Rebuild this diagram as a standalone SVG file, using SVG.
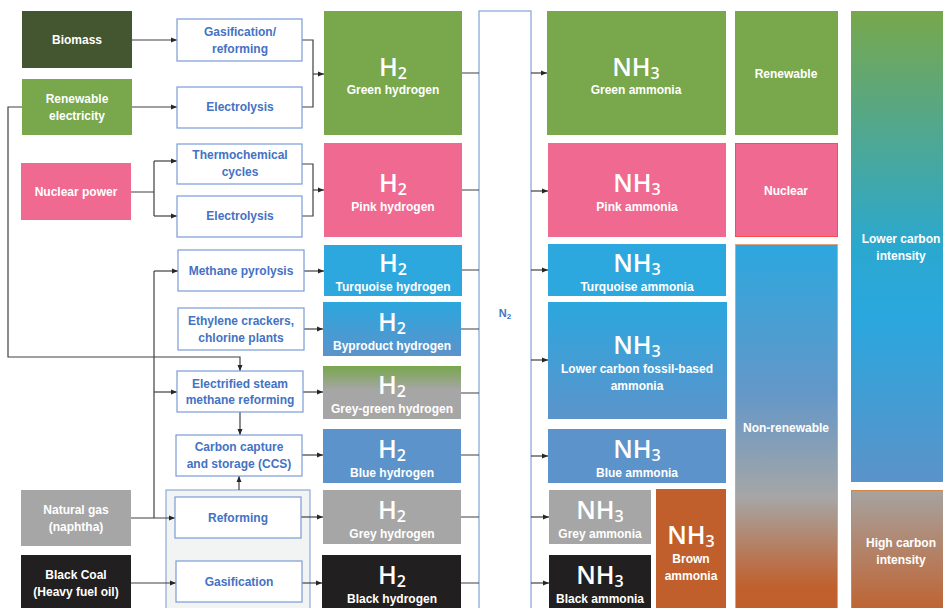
<svg xmlns="http://www.w3.org/2000/svg" width="943" height="608" viewBox="0 0 943 608">
<defs>
<marker id="ah" markerWidth="6" markerHeight="6" refX="6" refY="3" orient="auto" markerUnits="userSpaceOnUse"><path d="M0,0.5 L6,3 L0,5.5 z" fill="#262626"/></marker>
<linearGradient id="gByp" x1="0" y1="0" x2="0" y2="1"><stop offset="0" stop-color="#2ba7de"/><stop offset="1" stop-color="#5b93ca"/></linearGradient>
<linearGradient id="gGG" x1="0" y1="0" x2="0" y2="1"><stop offset="0" stop-color="#78a74c"/><stop offset="0.45" stop-color="#a6a6a6"/><stop offset="1" stop-color="#a6a6a6"/></linearGradient>
<linearGradient id="gLF" x1="0" y1="0" x2="0" y2="1"><stop offset="0" stop-color="#2ba7de"/><stop offset="1" stop-color="#5b94cb"/></linearGradient>
<linearGradient id="gNR" x1="0" y1="0" x2="0" y2="1"><stop offset="0" stop-color="#2ca7de"/><stop offset="0.4" stop-color="#6497c8"/><stop offset="0.68" stop-color="#a6a6a6"/><stop offset="0.92" stop-color="#c0602d"/><stop offset="1" stop-color="#c05f2c"/></linearGradient>
<linearGradient id="gLC" x1="0" y1="0" x2="0" y2="1"><stop offset="0" stop-color="#78a74c"/><stop offset="0.5" stop-color="#2ba8cf"/><stop offset="0.65" stop-color="#2aa7de"/><stop offset="1" stop-color="#5b93c9"/></linearGradient>
<linearGradient id="gHC" x1="0" y1="0" x2="0" y2="1"><stop offset="0" stop-color="#a6a3a0"/><stop offset="1" stop-color="#c0602c"/></linearGradient>
</defs>
<style>
text{font-family:"Liberation Sans",Arial,sans-serif;font-weight:bold;text-anchor:middle}
.w{fill:#ffffff;font-size:12px}
.p{fill:#4472c4;font-size:12px}
.big{fill:#ffffff;font-size:25px;font-weight:600;font-family:"Open Sans","Liberation Sans",sans-serif}
.sub{font-size:16px}
.proc{fill:#ffffff;stroke:#7a9cd6;stroke-width:1.2}
.conn path{fill:none;stroke:#404040;stroke-width:1.2}
.arr{marker-end:url(#ah)}
</style>
<rect width="943" height="608" fill="#ffffff"/>

<g id="container"><rect x="166" y="490" width="144" height="125" fill="#f2f3f3" stroke="#8eaadb" stroke-width="1.2"/></g>
<g id="n2"><rect x="479" y="11" width="52" height="605" fill="#ffffff" stroke="#8eaadb" stroke-width="1.3"/><text x="505" y="317" style="fill:#4472c4;font-size:11px">N<tspan font-size="8" dy="2">2</tspan></text></g>

<g class="conn">
<path class="arr" d="M132,40 H177"/>
<path class="arr" d="M132,107 H177"/>
<path d="M302,40 H313 V107 H302"/>
<path class="arr" d="M313,74 H324"/>
<path d="M131,192 H154 M154,161 V216"/>
<path class="arr" d="M154,161 H177"/>
<path class="arr" d="M154,216 H177"/>
<path d="M302,164 H313 V216 H302"/>
<path class="arr" d="M313,190 H324"/>
<path class="arr" d="M22,107 H8 V357 H240 V371"/>
<path class="arr" d="M131,518 H175"/>
<path d="M154,518 V271"/>
<path class="arr" d="M154,271 H178"/>
<path class="arr" d="M154,392 H177"/>
<path class="arr" d="M240,412 V435"/>
<path class="arr" d="M239,490 V476"/>
<path class="arr" d="M131,583 H176"/>
<path class="arr" d="M304,271 H324"/>
<path class="arr" d="M304,329 H323"/>
<path class="arr" d="M303,392 H323"/>
<path class="arr" d="M302,455 H323"/>
<path class="arr" d="M301,517 H323"/>
<path class="arr" d="M302,583 H322"/>
<path d="M462,73 H479 M462,190 H479 M462,270 H479 M461,329 H479 M461,393 H479 M461,455 H479 M461,517 H479 M461,583 H479"/>
<path class="arr" d="M531,73 H547"/>
<path class="arr" d="M531,191 H548"/>
<path class="arr" d="M531,270 H548"/>
<path class="arr" d="M531,360 H548"/>
<path class="arr" d="M531,456 H548"/>
<path class="arr" d="M531,517 H549"/>
<path class="arr" d="M531,583 H549"/>
</g>

<g id="biomass"><rect x="22" y="11" width="110" height="57" fill="#44562f"/><text class="w" x="77" y="44">Biomass</text></g>
<g id="renewable-electricity"><rect x="22" y="79" width="110" height="56" fill="#78a74c"/><text class="w" x="77" y="103">Renewable</text><text class="w" x="77" y="120">electricity</text></g>
<g id="nuclear-power"><rect x="21" y="163" width="110" height="57" fill="#f06991"/><text class="w" x="76" y="196">Nuclear power</text></g>
<g id="natural-gas"><rect x="21" y="490" width="110" height="56" fill="#a6a6a6"/><text class="w" x="76" y="514">Natural gas</text><text class="w" x="76" y="531">(naphtha)</text></g>
<g id="black-coal"><rect x="21" y="555" width="110" height="60" fill="#221f20"/><text class="w" x="76" y="579">Black Coal</text><text class="w" x="76" y="596">(Heavy fuel oil)</text></g>

<g id="gasification-reforming"><rect class="proc" x="177" y="19" width="125" height="42"/><text class="p" x="240" y="36">Gasification/</text><text class="p" x="240" y="53">reforming</text></g>
<g id="electrolysis-1"><rect class="proc" x="177" y="87" width="125" height="41"/><text class="p" x="240" y="111">Electrolysis</text></g>
<g id="thermochemical"><rect class="proc" x="177" y="144" width="125" height="40"/><text class="p" x="240" y="159">Thermochemical</text><text class="p" x="240" y="176">cycles</text></g>
<g id="electrolysis-2"><rect class="proc" x="177" y="196" width="125" height="41"/><text class="p" x="240" y="220">Electrolysis</text></g>
<g id="methane-pyrolysis"><rect class="proc" x="178" y="250" width="126" height="41"/><text class="p" x="241" y="275">Methane pyrolysis</text></g>
<g id="ethylene"><rect class="proc" x="178" y="308" width="126" height="42"/><text class="p" x="241" y="325">Ethylene crackers,</text><text class="p" x="241" y="342">chlorine plants</text></g>
<g id="esmr"><rect class="proc" x="177" y="371" width="126" height="41"/><text class="p" x="240" y="388">Electrified steam</text><text class="p" x="240" y="404">methane reforming</text></g>
<g id="ccs"><rect class="proc" x="176" y="435" width="126" height="41"/><text class="p" x="239" y="451">Carbon capture</text><text class="p" x="239" y="468">and storage (CCS)</text></g>
<g id="reforming"><rect class="proc" x="175" y="497" width="126" height="41"/><text class="p" x="238" y="522">Reforming</text></g>
<g id="gasification"><rect class="proc" x="176" y="561" width="126" height="41"/><text class="p" x="239" y="586">Gasification</text></g>

<g id="h2-green"><rect x="324" y="11" width="138" height="124" fill="#78a74c"/><text class="big" x="393" y="76">H<tspan class="sub" dy="3">2</tspan></text><text class="w" x="393" y="94">Green hydrogen</text></g>
<g id="h2-pink"><rect x="324" y="143" width="138" height="94" fill="#f06991"/><text class="big" x="393" y="192">H<tspan class="sub" dy="3">2</tspan></text><text class="w" x="393" y="211">Pink hydrogen</text></g>
<g id="h2-turquoise"><rect x="324" y="245" width="138" height="51" fill="#2ca8de"/><text class="big" x="393" y="272">H<tspan class="sub" dy="3">2</tspan></text><text class="w" x="393" y="291">Turquoise hydrogen</text></g>
<g id="h2-byproduct"><rect x="323" y="302" width="138" height="54" fill="url(#gByp)"/><text class="big" x="392" y="331">H<tspan class="sub" dy="3">2</tspan></text><text class="w" x="392" y="350">Byproduct hydrogen</text></g>
<g id="h2-greygreen"><rect x="323" y="366" width="138" height="53" fill="url(#gGG)"/><text class="big" x="392" y="394">H<tspan class="sub" dy="3">2</tspan></text><text class="w" x="392" y="413">Grey-green hydrogen</text></g>
<g id="h2-blue"><rect x="323" y="429" width="138" height="54" fill="#5b93ca"/><text class="big" x="392" y="458">H<tspan class="sub" dy="3">2</tspan></text><text class="w" x="392" y="477">Blue hydrogen</text></g>
<g id="h2-grey"><rect x="323" y="490" width="138" height="54" fill="#a6a6a6"/><text class="big" x="392" y="519">H<tspan class="sub" dy="3">2</tspan></text><text class="w" x="392" y="538">Grey hydrogen</text></g>
<g id="h2-black"><rect x="322" y="555" width="139" height="60" fill="#221f20"/><text class="big" x="392" y="584">H<tspan class="sub" dy="3">2</tspan></text><text class="w" x="392" y="603">Black hydrogen</text></g>

<g id="nh3-green"><rect x="547" y="11" width="179" height="124" fill="#78a74c"/><text class="big" x="636" y="76">NH<tspan class="sub" dy="3">3</tspan></text><text class="w" x="636" y="94">Green ammonia</text></g>
<g id="nh3-pink"><rect x="548" y="143" width="178" height="94" fill="#f06991"/><text class="big" x="637" y="192">NH<tspan class="sub" dy="3">3</tspan></text><text class="w" x="637" y="211">Pink ammonia</text></g>
<g id="nh3-turquoise"><rect x="548" y="244" width="178" height="52" fill="#2ca8de"/><text class="big" x="637" y="272">NH<tspan class="sub" dy="3">3</tspan></text><text class="w" x="637" y="291">Turquoise ammonia</text></g>
<g id="nh3-lowfossil"><rect x="548" y="302" width="179" height="117" fill="url(#gLF)"/><text class="big" x="637" y="354">NH<tspan class="sub" dy="3">3</tspan></text><text class="w" x="637" y="373">Lower carbon fossil-based</text><text class="w" x="637" y="390">ammonia</text></g>
<g id="nh3-blue"><rect x="548" y="429" width="178" height="54" fill="#5b93ca"/><text class="big" x="637" y="458">NH<tspan class="sub" dy="3">3</tspan></text><text class="w" x="637" y="477">Blue ammonia</text></g>
<g id="nh3-grey"><rect x="549" y="490" width="102" height="54" fill="#a6a6a6"/><text class="big" x="600" y="519">NH<tspan class="sub" dy="3">3</tspan></text><text class="w" x="600" y="538">Grey ammonia</text></g>
<g id="nh3-black"><rect x="549" y="555" width="102" height="60" fill="#221f20"/><text class="big" x="600" y="584">NH<tspan class="sub" dy="3">3</tspan></text><text class="w" x="600" y="603">Black ammonia</text></g>
<g id="nh3-brown"><rect x="656" y="489" width="70" height="126" fill="#c05f2c"/><text class="big" x="691" y="544">NH<tspan class="sub" dy="3">3</tspan></text><text class="w" x="691" y="563">Brown</text><text class="w" x="691" y="580">ammonia</text></g>

<g id="renewable"><rect x="735" y="11" width="103" height="124" fill="#78a74c"/><text class="w" x="786" y="78">Renewable</text></g>
<g id="nuclear"><rect x="735.5" y="143.5" width="102" height="93" fill="#f06991" stroke="#ff4a4a" stroke-width="1"/><text class="w" x="786" y="195">Nuclear</text></g>
<g id="non-renewable"><rect x="735.5" y="244.5" width="102" height="372" fill="url(#gNR)" stroke="#e5a07a" stroke-width="1"/><text class="w" x="786" y="432">Non-renewable</text></g>
<g id="lower-carbon"><rect x="851" y="11" width="100" height="471" fill="url(#gLC)"/><text class="w" x="901" y="243">Lower carbon</text><text class="w" x="901" y="260">intensity</text></g>
<g id="high-carbon"><rect x="851.5" y="490.5" width="100" height="126" fill="url(#gHC)" stroke="#d8844a" stroke-width="1"/><text class="w" x="901" y="547">High carbon</text><text class="w" x="901" y="564">intensity</text></g>
</svg>
